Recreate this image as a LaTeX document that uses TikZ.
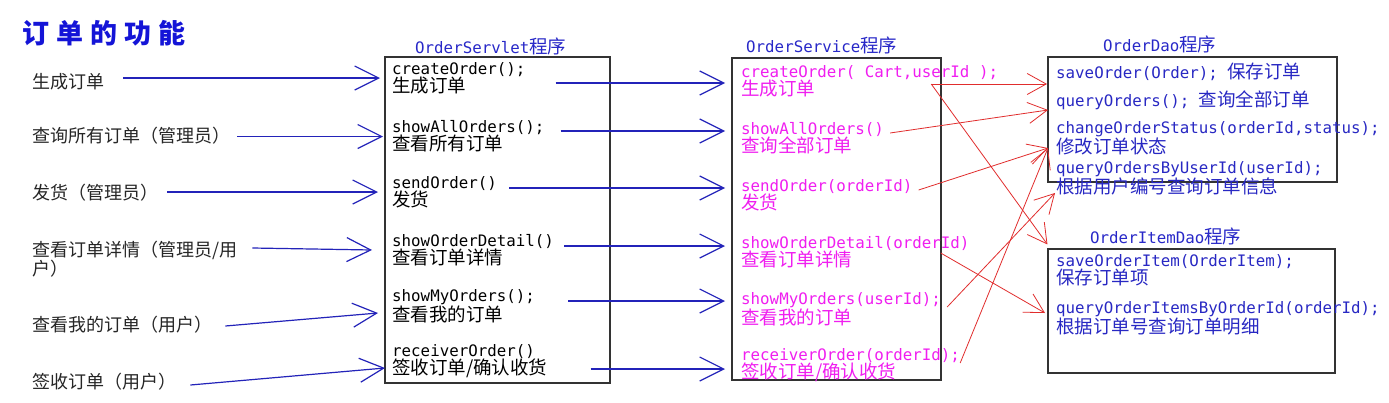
\documentclass[tikz,border=0pt]{standalone}
\usepackage{fontspec}
\usepackage{tikz}
\usetikzlibrary{arrows.meta, calc}

\newfontfamily\codefont{DejaVu Sans Mono}
\newfontfamily\cjkfont{Noto Sans CJK SC}
% Chinese words inside the monospaced method lines
\newcommand{\zh}[1]{{\cjkfont\fontsize{18.5}{18}\selectfont #1}}

\begin{document}
\begin{tikzpicture}[
    x=1pt, y=-1pt,
    % method lines inside the program boxes
    method/.style={anchor=west, inner sep=0pt, align=left,
                   font=\codefont\fontsize{15.8}{18}\selectfont},
    % use cases on the left
    usecase/.style={anchor=west, inner sep=0pt, align=left, text=black!85,
                    font=\cjkfont\fontsize{18}{18}\selectfont},
    heading/.style={anchor=west, inner sep=0pt, text=headC,
                    font=\codefont\fontsize{15.8}{18}\selectfont},
    panel/.style={draw=black!80, line width=1.1pt, inner sep=0pt},
    % blue request arrows and red call arrows
    flow/.style={line width=1.2pt, draw=flowC,
                 -{Straight Barb[length=24pt, width=24pt]}},
    call/.style={line width=0.8pt, draw=callC,
                 -{Straight Barb[length=19pt, width=21pt]}}
]

\definecolor{titleC}{RGB}{20,20,215}
\definecolor{headC}{RGB}{40,40,200}
\definecolor{flowC}{RGB}{35,35,185}
\definecolor{callC}{RGB}{225,45,45}
\definecolor{pinkC}{RGB}{240,30,240}
\definecolor{daoC}{RGB}{40,40,195}

\path[fill=white] (0,0) rectangle (1389,402);
\useasboundingbox (0,0) rectangle (1389,402);

% Title
\node[anchor=west, inner sep=0pt, text=titleC,
      font=\cjkfont\bfseries\fontsize{27}{27}\selectfont\addfontfeature{LetterSpace=26}]
  (title) at (22,33) {订单的功能};

% Use cases
\node[usecase] (l1) at (32,82)  {生成订单};
\node[usecase] (l2) at (32,136) {查询所有订单（管理员）};
\node[usecase] (l3) at (32,193) {发货（管理员）};
\node[usecase] (l4) at (32,259) {查看订单详情（管理员/用\\户）};
\node[usecase] (l5) at (32,325) {查看我的订单（用户）};
\node[usecase] (l6) at (32,382) {签收订单（用户）};

% Program boxes
\node[panel, minimum width=225pt, minimum height=326pt] (servlet) at (497.5,220) {};
\node[panel, minimum width=209pt, minimum height=322pt] (service) at (836.5,219) {};
\node[panel, minimum width=289pt, minimum height=125pt] (orderdao) at (1192.5,119.5) {};
\node[panel, minimum width=287pt, minimum height=124pt] (itemdao) at (1191.5,311) {};

\node[heading] (servletT) at (415,46)  {OrderServlet\zh{程序}};
\node[heading] (serviceT) at (746,45)  {OrderService\zh{程序}};
\node[heading] (orderdaoT) at (1103,44) {OrderDao\zh{程序}};
\node[heading] (itemdaoT) at (1090,236) {OrderItemDao\zh{程序}};

% OrderServlet
\node[method] (s1) at (392,78)    {createOrder();\\\zh{生成订单}};
\node[method] (s2) at (392,136.5) {showAllOrders();\\\zh{查看所有订单}};
\node[method] (s3) at (392,192)   {sendOrder()\\\zh{发货}};
\node[method] (s4) at (392,250)   {showOrderDetail()\\\zh{查看订单详情}};
\node[method] (s5) at (392,306)   {showMyOrders();\\\zh{查看我的订单}};
\node[method] (s6) at (392,361.5) {receiverOrder()\\\zh{签收订单/确认收货}};

% OrderService
\node[method, text=pinkC] (v1) at (741,81)  {createOrder( Cart,userId );\\\zh{生成订单}};
\node[method, text=pinkC] (v2) at (741,138) {showAllOrders()\\\zh{查询全部订单}};
\node[method, text=pinkC] (v3) at (741,195) {sendOrder(orderId)\\\zh{发货}};
\node[method, text=pinkC] (v4) at (741,252) {showOrderDetail(orderId)\\\zh{查看订单详情}};
\node[method, text=pinkC] (v5) at (741,309) {showMyOrders(userId);\\\zh{查看我的订单}};
\node[method, text=pinkC] (v6) at (741,365) {receiverOrder(orderId);\\\zh{签收订单/确认收货}};

% OrderDao
\node[method, text=daoC] (d1) at (1056,72)  {saveOrder(Order); \zh{保存订单}};
\node[method, text=daoC] (d2) at (1056,100) {queryOrders(); \zh{查询全部订单}};
\node[method, text=daoC] (d3) at (1056,138) {changeOrderStatus(orderId,status);\\\zh{修改订单状态}};
\node[method, text=daoC] (d4) at (1056,178) {queryOrdersByUserId(userId);\\\zh{根据用户编号查询订单信息}};

% OrderItemDao
\node[method, text=daoC] (i1) at (1056,270) {saveOrderItem(OrderItem);\\\zh{保存订单项}};
\node[method, text=daoC] (i2) at (1056,318) {queryOrderItemsByOrderId(orderId);\\\zh{根据订单号查询订单明细}};

% Use cases -> servlet
\draw[flow] ($(l1.east |- s1.west)+(19,0)$) -- ($(s1.west)+(-12,0)$);
\draw[flow] ($(l2.east |- s2.west)+(7,0)$) -- ($(s2.west)+(-9,0)$);
\draw[flow] ($(l3.east |- s3.west)+(9,0)$) -- ($(s3.west)+(-14,0)$);
\draw[flow] ($(l4.east)+(15,-11)$) -- ($(s4.west)+(-20,0)$);
\draw[flow] ($(l5.east)+(13,1)$) -- ($(s5.west)+(-14,7)$);
\draw[flow] ($(l6.east)+(14,3)$) -- ($(s6.west)+(-7,6.5)$);

% Servlet -> service
\draw[flow] ($(s1.east)+(30,5)$) -- ($(s1.east -| v1.west)+(-16,5)$);
\draw[flow] ($(s2.east)+(16,-5.5)$) -- ($(s2.east -| v2.west)+(-16,-5.5)$);
\draw[flow] ($(s3.east)+(12,-4)$) -- ($(s3.east -| v3.west)+(-16,-4)$);
\draw[flow] ($(s4.east)+(10,-4)$) -- ($(s4.east -| v4.west)+(-16,-4)$);
\draw[flow] ($(s5.east)+(33,-5)$) -- ($(s5.east -| v5.west)+(-16,-5)$);
\draw[flow] ($(s6.east)+(43,7.5)$) -- ($(s6.east -| v6.west)+(-16,7.5)$);

% Service -> dao calls
\draw[call] ($(v1.east)+(-67,3)$) -- ($(d1.west)+(-9,12)$);
\draw[call] ($(v1.east)+(-67,3)$) -- ($(itemdao.north west)+(0,-4)$);
\draw[call] ($(v2.east)+(6,-5)$) -- ($(d2.west)+(-8,10)$);
\draw[call] ($(v3.east)+(6,-5)$) -- ($(d3.west)+(-8,10)$);
\draw[call] ($(v4.east)+(-29,1)$) -- ($(i2.west)+(-11,-5)$);
\draw[call] ($(v5.east)+(6,-2)$) -- ($(d4.west)+(-1,15)$);
\draw[call] ($(v6.east)+(0,-2)$) -- ($(d3.west)+(-8,10)$);

\end{tikzpicture}
\end{document}
